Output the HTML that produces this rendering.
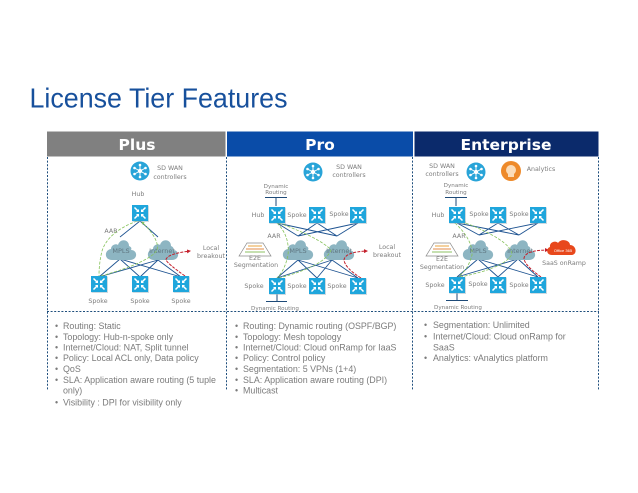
<!DOCTYPE html>
<html><head><meta charset="utf-8"><style>
html,body{margin:0;padding:0;background:#fff}
svg{display:block;filter:blur(.3px)}
.t{font-family:"DejaVu Sans",sans-serif;font-size:6.3px;fill:#7d7d7d;text-anchor:middle}
.s{font-size:5.6px}
.c{font-size:6.5px;fill:#5f7680;font-family:"DejaVu Sans",sans-serif;text-anchor:middle}
.h{font-family:"DejaVu Sans",sans-serif;font-weight:bold;font-size:15.5px;fill:#fff;text-anchor:middle}
.l{font-family:"Liberation Sans",sans-serif;font-size:8.9px;fill:#7b7b7b}
.d{fill:none;stroke:#1f4f7d;stroke-width:1;stroke-dasharray:2 1.6}
.n{fill:none;stroke:#1e5391;stroke-width:.9}
.g{fill:none;stroke:#86c25a;stroke-width:.8;stroke-dasharray:3 1.5}
.r{fill:none;stroke:#c4202c;stroke-width:1;stroke-dasharray:3 1.2}
</style></head><body>
<svg width="638" height="493" viewBox="0 0 638 493" xmlns="http://www.w3.org/2000/svg">
<defs>
<symbol id="rt" viewBox="-9 -9 18 18" overflow="visible">
<rect x="-7.5" y="-7.5" width="16.5" height="16.5" fill="#9db5c2" opacity=".5"/>
<rect x="-8" y="-8" width="16" height="16" fill="#1fa6dc"/>
<path d="M-5.5-5.5L-1.6-1.6M5.5-5.5L1.6-1.6M-5.5 5.5L-1.6 1.6M5.5 5.5L1.6 1.6" stroke="#fff" stroke-width="1.5"/>
<path d="M-1-4L-1-1-4-1ZM1-4L1-1 4-1ZM-1 4L-1 1-4 1ZM1 4L1 1 4 1Z" fill="#fff"/>
</symbol>
<symbol id="cl" viewBox="-16 -12 32 24" overflow="visible">
<path d="M-9 11C-17 11-17 1-10 0-10-4-5-6-3-4-1-11 8-10 8-3 10-2 11-1 10 1 17 1 17 11 9 11Z" fill="#8db5c2"/>
</symbol>
<symbol id="ct" viewBox="-10 -10 20 20" overflow="visible">
<circle r="9.5" fill="#29a4d8"/>
<g stroke="#fff" stroke-width=".9"><path d="M0-6V6M-5.5-3L5.5 3M-5.5 3L5.5-3"/></g>
<circle r="2.2" fill="#fff"/>
<g fill="#fff"><circle cy="-6" r="1.3"/><circle cy="6" r="1.3"/><circle cx="-5.5" cy="-3" r="1.3"/><circle cx="5.5" cy="-3" r="1.3"/><circle cx="-5.5" cy="3" r="1.3"/><circle cx="5.5" cy="3" r="1.3"/></g>
</symbol>
<symbol id="e2" viewBox="-17 -8 34 16" overflow="visible">
<path d="M-16 7L-8-6H8L16 7Z" fill="#fff" stroke="#8a8a8a" stroke-width=".7"/>
<path d="M-7-3H7" stroke="#e8a33d" stroke-width="1"/><path d="M-9 0H9" stroke="#e28b4a" stroke-width="1"/><path d="M-10 3H10" stroke="#8cc063" stroke-width="1"/>
</symbol>
<marker id="ar" markerWidth="4" markerHeight="4" refX="3" refY="2" orient="auto"><path d="M0 0L4 2L0 4Z" fill="#c4202c"/></marker>
<marker id="ag" markerWidth="4" markerHeight="4" refX="3" refY="2" orient="auto"><path d="M0 0L4 2L0 4Z" fill="#86c25a"/></marker>
</defs>

<text x="29.5" y="107.5" font-family="Liberation Sans,sans-serif" font-size="27.6" fill="#17509c" textLength="258" lengthAdjust="spacingAndGlyphs">License Tier Features</text>

<rect x="47" y="131.5" width="178.5" height="25" fill="#808080"/>
<rect x="227" y="131.5" width="186" height="25" fill="#0a4ca8"/>
<rect x="414.5" y="131.5" width="184" height="25" fill="#0b2a6b"/>
<text class="h" x="137" y="150">Plus</text>
<text class="h" x="320" y="150">Pro</text>
<text class="h" x="506" y="150">Enterprise</text>

<path class="d" d="M47.5 157V391M226.5 157V391M412.5 157V391M598.5 157V391M47 311.5H599"/>

<!-- Plus -->
<use href="#ct" x="130" y="161" width="20" height="20"/>
<text class="t" x="170" y="170">SD WAN</text><text class="t" x="170" y="179">controllers</text>
<text class="t" x="138" y="196">Hub</text>
<path class="n" d="M140 221L120 237M140 221L158 237M120 259L99 277M120 259L140 277M120 259L181 277M158 260L99 277M158 260L140 277M158 260L181 277"/>
<use href="#cl" x="105" y="237" width="32" height="24"/>
<use href="#cl" x="147" y="237" width="32" height="24"/>
<text class="c" x="121" y="253">MPLS</text><text class="c" x="162" y="253">Internet</text>
<path class="g" d="M137 221Q108 232 102 251Q99 263 99 276" marker-start="url(#ag)"/>
<path class="g" d="M101 276Q150 262 157 250Q160 240 142 222" marker-end="url(#ag)"/>
<path class="r" d="M185 276Q168 264 166 260Q166 254 190 251" marker-end="url(#ar)"/>
<use href="#rt" x="131" y="204" width="18" height="18"/>
<use href="#rt" x="90" y="275" width="18" height="18"/>
<use href="#rt" x="131" y="275" width="18" height="18"/>
<use href="#rt" x="172" y="275" width="18" height="18"/>
<text class="t" x="111" y="233">AAR</text>
<text class="t" x="211" y="250">Local</text><text class="t" x="211" y="258">breakout</text>
<text class="t" x="98" y="303">Spoke</text><text class="t" x="140" y="303">Spoke</text><text class="t" x="181" y="303">Spoke</text>

<!-- Pro -->
<use href="#ct" x="303" y="162" width="20" height="20"/>
<text class="t" x="349" y="169">SD WAN</text><text class="t" x="349" y="177">controllers</text>
<text class="t s" x="276" y="188">Dynamic</text><text class="t s" x="276" y="194">Routing</text>
<path d="M265 197.5H287M276 197V206M266 301.5H287M277 293V301" stroke="#1e4a78" stroke-width="1" fill="none"/>
<path class="n" d="M277 223L298 236M277 223L337 236M317 223L298 236M317 223L337 236M358 223L298 236M358 223L337 236M298 260L277 278M298 260L317 278M298 260L358 278M332 260L277 278M332 260L317 278M332 260L358 278"/>
<use href="#cl" x="282" y="237" width="32" height="24"/>
<use href="#cl" x="323" y="237" width="32" height="24"/>
<text class="c" x="298" y="253">MPLS</text><text class="c" x="339" y="253">Internet</text>
<path class="g" d="M277 223Q290 236 288 255Q285 270 277 278"/>
<path class="g" d="M279 223Q320 238 331 250Q325 266 279 278"/>
<path class="r" d="M361 278Q345 268 344 260Q345 252 367 251" marker-end="url(#ar)"/>
<use href="#rt" x="268" y="206" width="18" height="18"/>
<use href="#rt" x="308" y="206" width="18" height="18"/>
<use href="#rt" x="349" y="206" width="18" height="18"/>
<use href="#rt" x="268" y="277" width="18" height="18"/>
<use href="#rt" x="308" y="277" width="18" height="18"/>
<use href="#rt" x="349" y="277" width="18" height="18"/>
<text class="t" x="258" y="217">Hub</text><text class="t" x="297" y="217">Spoke</text><text class="t" x="339" y="216">Spoke</text>
<text class="t" x="274" y="238">AAR</text>
<use href="#e2" x="238" y="241" width="34" height="16"/>
<text class="t" x="255" y="260">E2E</text><text class="t" x="256" y="267">Segmentation</text>
<text class="t" x="387" y="249">Local</text><text class="t" x="387" y="257">breakout</text>
<text class="t" x="254" y="288">Spoke</text><text class="t" x="297" y="288">Spoke</text><text class="t" x="337" y="288">Spoke</text>
<text class="t s" x="275" y="310">Dynamic Routing</text>

<!-- Enterprise -->
<use href="#ct" x="466" y="162" width="20" height="20"/>
<circle cx="511" cy="171" r="10" fill="#ee8a2a"/>
<circle cx="511" cy="170" r="5" fill="#fbdcb8"/><rect x="508" y="174" width="6" height="3" fill="#fbdcb8"/>
<text class="t" x="442" y="168">SD WAN</text><text class="t" x="442" y="176">controllers</text>
<text class="t" x="541" y="171">Analytics</text>
<text class="t s" x="456" y="187">Dynamic</text><text class="t s" x="456" y="194">Routing</text>
<path d="M445 197.5H467M456 197V206M446 300.5H468M457 293V300" stroke="#1e4a78" stroke-width="1" fill="none"/>
<path class="n" d="M457 223L479 235M457 223L519 235M498 223L479 235M498 223L519 235M538 223L479 235M538 223L519 235M478 259L457 277M478 259L498 277M478 259L538 277M518 259L457 277M518 259L498 277M518 259L538 277"/>
<use href="#cl" x="462" y="237" width="32" height="24"/>
<use href="#cl" x="504" y="237" width="32" height="24"/>
<text class="c" x="478" y="253">MPLS</text><text class="c" x="520" y="253">Internet</text>
<path class="g" d="M455 223Q473 240 472 255Q468 270 458 277" marker-start="url(#ag)"/>
<path class="g" d="M460 277Q505 268 512 254Q510 240 463 222" marker-end="url(#ag)"/>
<path class="r" d="M541 277Q524 265 524 258Q526 250 548 250" marker-end="url(#ar)"/>
<use href="#rt" x="448" y="206" width="18" height="18"/>
<use href="#rt" x="489" y="206" width="18" height="18"/>
<use href="#rt" x="529" y="206" width="18" height="18"/>
<use href="#rt" x="448" y="276" width="18" height="18"/>
<use href="#rt" x="489" y="276" width="18" height="18"/>
<use href="#rt" x="529" y="276" width="18" height="18"/>
<path d="M552 255C546 255 546 248 550 247 549 242 556 240 558 243 561 238 570 240 570 245 576 245 578 254 572 255Z" fill="#e8481c"/>
<text x="563" y="252" font-family="Liberation Sans,sans-serif" font-size="4" fill="#fff" text-anchor="middle">Office 365</text>
<text class="t" x="438" y="217">Hub</text><text class="t" x="479" y="216">Spoke</text><text class="t" x="519" y="216">Spoke</text>
<text class="t" x="459" y="238">AAR</text>
<use href="#e2" x="425" y="241" width="34" height="16"/>
<text class="t" x="442" y="261">E2E</text><text class="t" x="442" y="269">Segmentation</text>
<text class="t" x="564" y="265">SaaS onRamp</text>
<text class="t" x="435" y="287">Spoke</text><text class="t" x="478" y="286">Spoke</text><text class="t" x="519" y="287">Spoke</text>
<text class="t s" x="458" y="309">Dynamic Routing</text>

<!-- Lists -->
<text class="l" x="55" y="329">•</text><text class="l" x="63" y="329">Routing: Static</text>
<text class="l" x="55" y="340">•</text><text class="l" x="63" y="340">Topology: Hub-n-spoke only</text>
<text class="l" x="55" y="350.5">•</text><text class="l" x="63" y="350.5">Internet/Cloud: NAT, Split tunnel</text>
<text class="l" x="55" y="361">•</text><text class="l" x="63" y="361">Policy: Local ACL only, Data policy</text>
<text class="l" x="55" y="372">•</text><text class="l" x="63" y="372">QoS</text>
<text class="l" x="55" y="383">•</text><text class="l" x="63" y="383">SLA: Application aware routing (5 tuple</text>
<text class="l" x="63" y="393.5">only)</text>
<text class="l" x="55" y="405.5">•</text><text class="l" x="63" y="405.5">Visibility : DPI for visibility only</text>

<text class="l" x="235" y="329">•</text><text class="l" x="243" y="329">Routing: Dynamic routing (OSPF/BGP)</text>
<text class="l" x="235" y="340">•</text><text class="l" x="243" y="340">Topology: Mesh topology</text>
<text class="l" x="235" y="350.5">•</text><text class="l" x="243" y="350.5">Internet/Cloud: Cloud onRamp for IaaS</text>
<text class="l" x="235" y="361">•</text><text class="l" x="243" y="361">Policy: Control policy</text>
<text class="l" x="235" y="372">•</text><text class="l" x="243" y="372">Segmentation: 5 VPNs (1+4)</text>
<text class="l" x="235" y="383">•</text><text class="l" x="243" y="383">SLA: Application aware routing (DPI)</text>
<text class="l" x="235" y="393.5">•</text><text class="l" x="243" y="393.5">Multicast</text>

<text class="l" x="424" y="328">•</text><text class="l" x="433" y="328">Segmentation: Unlimited</text>
<text class="l" x="424" y="339.5">•</text><text class="l" x="433" y="339.5">Internet/Cloud: Cloud onRamp for</text>
<text class="l" x="433" y="350.5">SaaS</text>
<text class="l" x="424" y="361">•</text><text class="l" x="433" y="361">Analytics: vAnalytics platform</text>
</svg>
</body></html>
